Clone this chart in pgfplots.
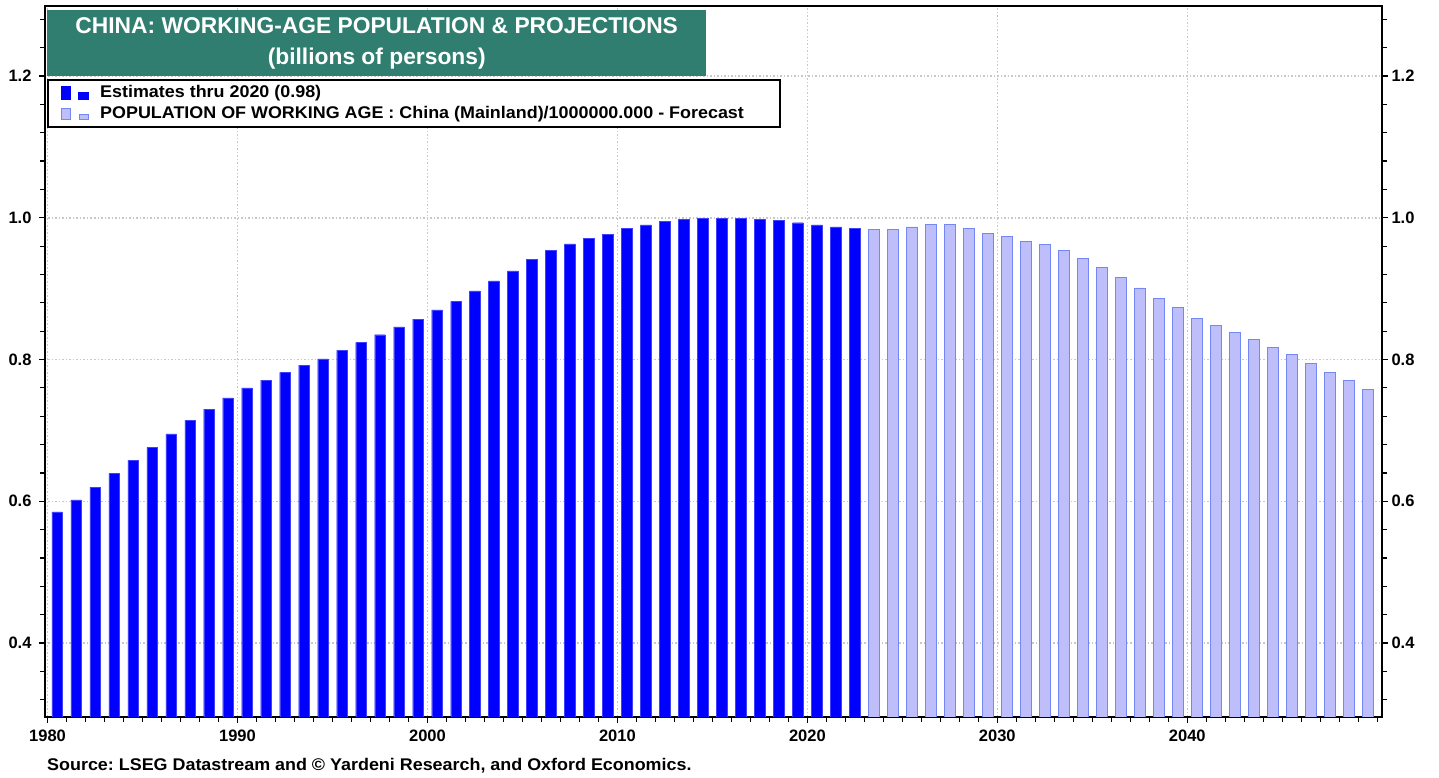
\documentclass[border=0pt]{standalone}
\usepackage{pgfplots}
\usepackage{pgfplotstable}
\pgfplotsset{compat=1.18}
\usepackage{fontspec}
\setmainfont{Liberation Sans}
\newfontfamily\stretchfont{Liberation Sans}[FakeStretch=1.06]
\frenchspacing
\definecolor{titlegreen}{RGB}{47,126,112}
\definecolor{estblue}{RGB}{0,0,255}
\definecolor{fcfill}{RGB}{190,190,250}
\definecolor{fcdraw}{RGB}{115,135,245}
\definecolor{gridgray}{RGB}{200,200,200}

\pgfplotstableread{
year pop
1980 0.585
1981 0.602
1982 0.620
1983 0.639
1984 0.658
1985 0.676
1986 0.695
1987 0.714
1988 0.730
1989 0.746
1990 0.760
1991 0.771
1992 0.782
1993 0.792
1994 0.801
1995 0.813
1996 0.824
1997 0.835
1998 0.846
1999 0.857
2000 0.870
2001 0.882
2002 0.897
2003 0.911
2004 0.925
2005 0.941
2006 0.954
2007 0.963
2008 0.971
2009 0.977
2010 0.985
2011 0.990
2012 0.995
2013 0.998
2014 0.9995
2015 0.9995
2016 0.9995
2017 0.998
2018 0.9966
2019 0.993
2020 0.990
2021 0.987
2022 0.985
}\estdata

\pgfplotstableread{
year pop
2023 0.984
2024 0.984
2025 0.987
2026 0.991
2027 0.991
2028 0.985
2029 0.978
2030 0.973
2031 0.9665
2032 0.962
2033 0.954
2034 0.943
2035 0.930
2036 0.9155
2037 0.901
2038 0.886
2039 0.873
2040 0.858
2041 0.848
2042 0.838
2043 0.8285
2044 0.817
2045 0.807
2046 0.795
2047 0.782
2048 0.770
2049 0.7576
}\fcdata

\pgfplotsset{
  commonax/.style={
    at={(0pt,0pt)}, anchor=south west,
    scale only axis, width=1337pt, height=711pt,
    xmin=1979.868, xmax=2050.25, ymin=0.2956, ymax=1.2988,
    ytick={0.4,0.6,0.8,1.0,1.2},
    minor ytick={0.32,0.36,0.44,0.48,0.52,0.56,0.64,0.68,0.72,0.76,0.84,0.88,0.92,0.96,1.04,1.08,1.12,1.16,1.24,1.28},
    tick align=outside,
    major tick length=6pt, minor tick length=5pt,
    every tick/.style={black, line width=1.2pt},
    /pgf/number format/assume math mode=true,
    ticklabel style={font=\bfseries\fontsize{16.5}{16.5}\selectfont},
    yticklabel style={/pgf/number format/fixed, /pgf/number format/fixed zerofill, /pgf/number format/precision=1},
  }
}

\begin{document}
\begin{tikzpicture}
\useasboundingbox (-45pt,-61pt) rectangle (1394pt,717pt);
\begin{axis}[
  commonax,
  xtick={1980,1990,2000,2010,2020,2030,2040},
  minor xtick={1980,1981,...,2050},
  xticklabel style={/pgf/number format/1000 sep={}, yshift=-3pt},
  yticklabel style={xshift=-4pt},
  xtick pos=bottom, ytick pos=left,
  axis line style={line width=2.8pt},
  grid=major,
  major grid style={gridgray, line width=1.5pt, dotted},
  legend style={at={(axis description cs:0.0015,0.8973)}, anchor=north west,
    draw=black, line width=2.4pt, fill=white,
    font=\stretchfont\bfseries\fontsize{16.9}{19}\selectfont,
    inner xsep=2pt, inner ysep=3.5pt, row sep=2.7pt,
    nodes={text height=12pt, text depth=3.5pt, inner ysep=1.5pt, inner xsep=5pt}},
  legend cell align=left,
]
\addplot[ybar, bar width=0.55, bar shift=0pt, fill=estblue, draw=estblue!75!white, line width=0.4pt,
  legend image code/.code={
    \path[draw=none,fill=none] (-11pt,0pt) rectangle (34pt,0pt);
    \fill[estblue] (0pt,-6.3pt) rectangle (9.5pt,6.3pt);
    \fill[estblue] (17.5pt,-6.3pt) rectangle (27.5pt,0.5pt);
  }] table[x expr=\thisrow{year}+0.5, y=pop] {\estdata};
\addlegendentry{Estimates thru 2020 (0.98)}
\addplot[ybar, bar width=0.55, bar shift=0pt, fill=fcfill, draw=fcdraw, line width=0.8pt,
  legend image code/.code={
    \path[draw=none,fill=none] (-11pt,0pt) rectangle (34pt,0pt);
    \filldraw[fill=fcfill, draw=fcdraw, line width=1pt] (0.5pt,-5.8pt) rectangle (9pt,5.8pt);
    \filldraw[fill=fcfill, draw=fcdraw, line width=1pt] (18pt,-5.8pt) rectangle (27pt,0pt);
  }] table[x expr=\thisrow{year}+0.5, y=pop] {\fcdata};
\addlegendentry{POPULATION OF WORKING AGE : China (Mainland)/1000000.000 - Forecast\hspace*{29pt}}
\end{axis}
\begin{axis}[
  commonax,
  axis x line=none,
  axis y line*=right,
  axis line style={line width=2.8pt},
]
\end{axis}
\node[fill=titlegreen, text=white, font=\bfseries\fontsize{22.8}{31}\selectfont, align=center,
  minimum width=659pt, minimum height=66pt, inner sep=0pt, anchor=north west]
  at (2pt,707pt) {\raisebox{-2pt}{CHINA: WORKING-AGE POPULATION \& PROJECTIONS}\\\raisebox{-2pt}{(billions of persons)}};
\node[anchor=base west, inner sep=0pt, font=\stretchfont\bfseries\fontsize{16.9}{18}\selectfont]
  at (2pt,-54pt) {Source: LSEG Datastream and © Yardeni Research, and Oxford Economics.};
\end{tikzpicture}
\end{document}
